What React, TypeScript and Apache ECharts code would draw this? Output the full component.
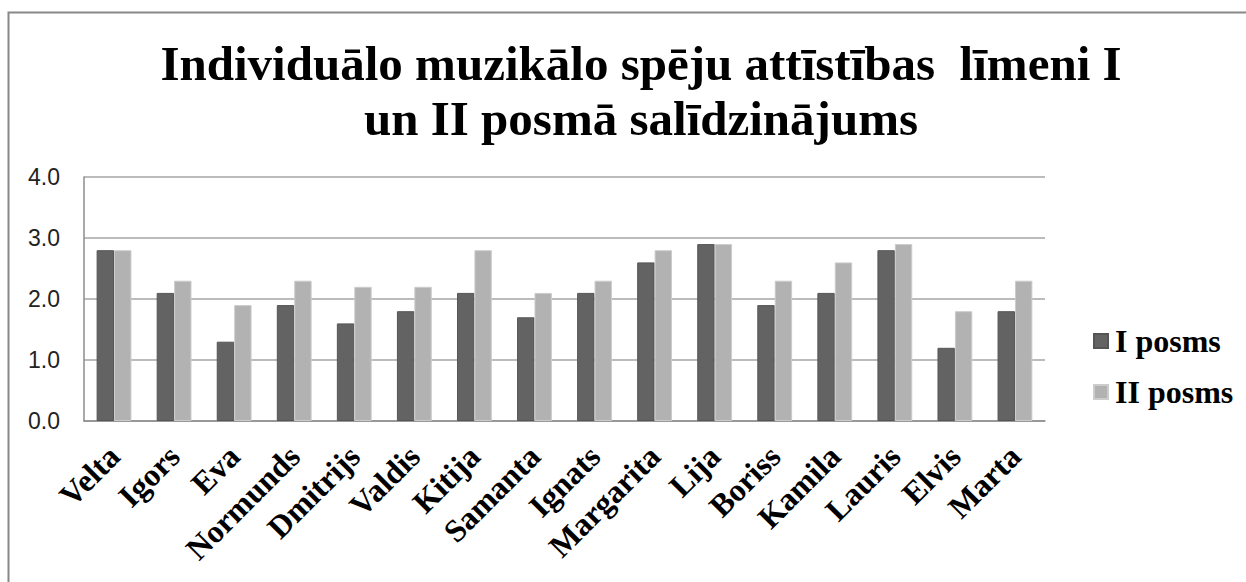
import React, { useEffect, useRef } from "react";
import * as echarts from "echarts";

const categories = ["Velta", "Igors", "Eva", "Normunds", "Dmitrijs", "Valdis", "Kitija", "Samanta", "Ignats", "Margarita", "Lija", "Boriss", "Kamila", "Lauris", "Elvis", "Marta"];
const posms1 = [2.8, 2.1, 1.3, 1.9, 1.6, 1.8, 2.1, 1.7, 2.1, 2.6, 2.9, 1.9, 2.1, 2.8, 1.2, 1.8];
const posms2 = [2.8, 2.3, 1.9, 2.3, 2.2, 2.2, 2.8, 2.1, 2.3, 2.8, 2.9, 2.3, 2.6, 2.9, 1.8, 2.3];
const seriesNames = ["I posms", "II posms"];
const titleText = "Individuālo muzikālo spēju attīstības  līmeni I\nun II posmā salīdzinājums";

export default function App() {
  const ref = useRef<HTMLDivElement>(null);
  useEffect(() => {
    const chart = echarts.init(ref.current!, null, { renderer: "svg" });
    const serif = "'Liberation Serif', 'Times New Roman', serif";
    chart.setOption({
      animation: false,
      backgroundColor: "#ffffff",
      title: {
        text: titleText,
        left: 636,
        textAlign: "center",
        top: 31,
        textStyle: { fontFamily: serif, fontWeight: "bold", fontSize: 49, lineHeight: 55, color: "#000" },
      },
      graphic: [
        {
          type: "rect",
          shape: { x: 8.5, y: 12.5, width: 1250, height: 600 },
          style: { fill: "none", stroke: "#888888", lineWidth: 2 },
          silent: true,
        },
      ],
      legend: {
        orient: "vertical",
        left: 1088,
        top: 320,
        itemWidth: 14,
        itemHeight: 14,
        itemGap: 19,
        icon: "rect",
        textStyle: { fontFamily: serif, fontWeight: "bold", fontSize: 32, lineHeight: 32, color: "#000", padding: [0, 0, 0, 2] },
        data: seriesNames,
      },
      grid: { left: 84, right: 201, top: 177, bottom: 161 },
      xAxis: {
        type: "category",
        data: categories,
        axisLine: { show: true, lineStyle: { color: "#8c8c8c", width: 1.5 } },
        axisTick: { show: false },
        axisLabel: {
          rotate: 45,
          interval: 0,
          margin: 30,
          fontFamily: serif,
          fontWeight: "bold",
          fontSize: 32,
          color: "#000",
        },
      },
      yAxis: {
        type: "value",
        min: 0,
        max: 4,
        interval: 1,
        axisLine: { show: true, lineStyle: { color: "#8c8c8c", width: 1.5 } },
        axisTick: { show: false },
        splitLine: { lineStyle: { color: "#a6a6a6", width: 1.5 } },
        axisLabel: {
          formatter: (v: number) => v.toFixed(1),
          margin: 24,
          fontFamily: "'Liberation Sans', Arial, sans-serif",
          fontSize: 23,
          color: "#222",
        },
      },
      series: [
        {
          name: seriesNames[0],
          type: "bar",
          data: posms1,
          barGap: "0%",
          barCategoryGap: "42%",
          itemStyle: { color: "#636363", borderColor: "#555555", borderWidth: 1 },
        },
        {
          name: seriesNames[1],
          type: "bar",
          data: posms2,
          barGap: "0%",
          barCategoryGap: "42%",
          itemStyle: { color: "#b2b2b2", borderColor: "#cccccc", borderWidth: 1 },
        },
      ],
    });
    return () => chart.dispose();
  }, []);
  return <div ref={ref} style={{ width: 1246, height: 582, position: "absolute", left: 0, top: 0 }} />;
}
